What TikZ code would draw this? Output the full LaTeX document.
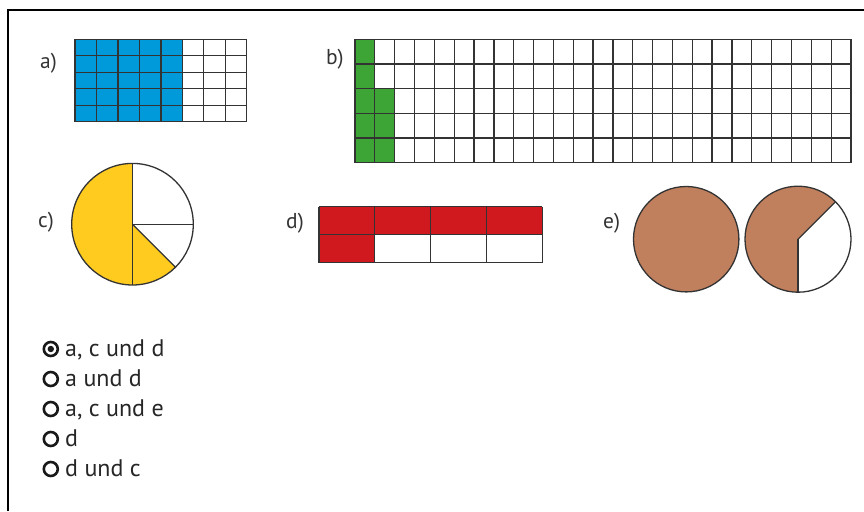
\documentclass[tikz,border=0pt]{standalone}
\usepackage{fontspec}
\setmainfont{PT Sans}
\definecolor{ablue}{HTML}{0099DA}
\definecolor{agreen}{HTML}{3DA536}
\definecolor{ayellow}{HTML}{FFCB1F}
\definecolor{ared}{HTML}{D0191F}
\definecolor{abrown}{HTML}{C07F5D}
\definecolor{aline}{HTML}{333333}
\begin{document}
\begin{tikzpicture}[x=1pt,y=-1pt,
  gridline/.style={draw=aline, line width=1.3pt},
  outline/.style={draw=aline, line width=1.3pt},
  lbl/.style={anchor=base west, inner sep=0pt, text=black!80, font=\fontsize{21.5}{25}\selectfont},
  ans/.style={anchor=base west, inner sep=0pt, text=black!85, font=\fontsize{24}{28}\selectfont},
  radio/.style={line width=2.6pt, draw=black!90}]
\useasboundingbox (0,0) rectangle (864,511);
\draw[line width=2pt] (8,511) -- (8,10) -- (864,10);

% a)
\node[lbl] (la) at (40,68) {a)};
\fill[ablue] (75,39.3) rectangle ({75+5*21.4625},121.7);
\foreach \i in {0,...,8} \draw[gridline] ({75+\i*21.4625},39.3) -- ++(0,82.4);
\foreach \j in {0,...,5} \draw[gridline] (75,{39.3+\j*16.48}) -- ++(171.7,0);

% b)
\node[lbl] (lb) at (326,65) {b)};
\fill[agreen] (355,39.3) rectangle ({355+19.84},162.7);
\fill[agreen] ({355+19.84},{39.3+2*24.68}) rectangle ({355+2*19.84},162.7);
\foreach \i in {0,...,25} \draw[gridline] ({355+\i*19.84},39.3) -- ++(0,123.4);
\foreach \j in {0,...,5} \draw[gridline] (355,{39.3+\j*24.68}) -- ++(496,0);

% c)
\node[lbl] (lc) at (38,227) {c)};
\begin{scope}[shift={(132.5,224.2)}, y=1pt]
  \fill[ayellow] (0,0) -- (90:60.8pt) arc[start angle=90, end angle=315, radius=60.8pt] -- cycle;
  \draw[outline] (0,0) circle[radius=60.8pt];
  \draw[outline] (90:60.8pt) -- (270:60.8pt);
  \draw[outline] (0,0) -- (0:60.8pt);
  \draw[outline] (0,0) -- (-45:60.8pt);
\end{scope}

% d)
\node[lbl] (ld) at (286,228) {d)};
\fill[ared] (319,206.7) rectangle (542.3,234.7);
\fill[ared] (319,234.7) rectangle ({319+55.825},262.7);
\foreach \i in {0,...,4} \draw[gridline] ({319+\i*55.825},206.7) -- ++(0,56);
\foreach \j in {0,...,2} \draw[gridline] (319,{206.7+\j*28}) -- ++(223.3,0);

% e)
\node[lbl] (le) at (603,228) {e)};
\begin{scope}[shift={(686.2,239.2)}, y=1pt]
  \fill[abrown] (0,0) circle[radius=52.7pt];
  \draw[outline] (0,0) circle[radius=52.7pt];
\end{scope}
\begin{scope}[shift={(798,239.2)}, y=1pt]
  \fill[abrown] (0,0) -- (45:53pt) arc[start angle=45, end angle=270, radius=53pt] -- cycle;
  \draw[outline] (0,0) circle[radius=53pt];
  \draw[outline] (0,0) -- (45:53pt);
  \draw[outline] (0,0) -- (270:53pt);
\end{scope}

% answers
\foreach \k/\t in {0/{a, c und d},1/{a und d},2/{a, c und e},3/{d},4/{d und c}} {
  \draw[radio] (50.8,{349+30*\k}) circle[radius=7pt];
  \node[ans] (ans\k) at (65,{356+30*\k}) {\t};
}
\fill[black!90] (50.8,349) circle[radius=3.2pt];
\end{tikzpicture}
\end{document}
